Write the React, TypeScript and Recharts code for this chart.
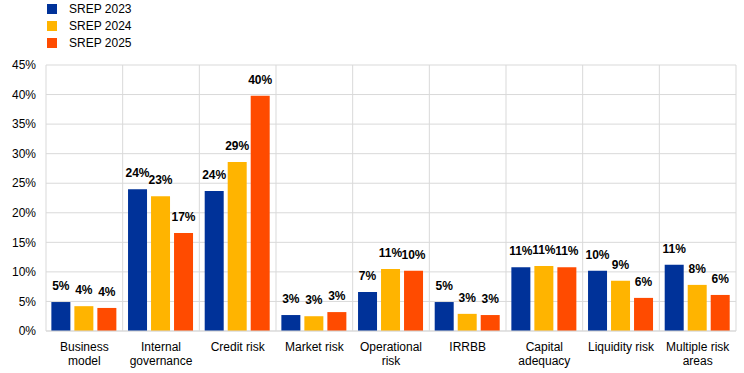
import { Bar, BarChart, CartesianGrid, LabelList, XAxis, YAxis } from "recharts";

const categoryLines = [
  ["Business", "model"],
  ["Internal", "governance"],
  ["Credit risk"],
  ["Market risk"],
  ["Operational", "risk"],
  ["IRRBB"],
  ["Capital", "adequacy"],
  ["Liquidity risk"],
  ["Multiple risk", "areas"],
];
const categories = categoryLines.map((l) => l.join(" "));

const srep2023 = [4.9, 24.0, 23.7, 2.7, 6.6, 4.9, 10.8, 10.2, 11.2];
const srep2024 = [4.2, 22.8, 28.6, 2.5, 10.5, 2.9, 11.0, 8.5, 7.8];
const srep2025 = [3.9, 16.6, 39.8, 3.2, 10.2, 2.7, 10.8, 5.6, 6.1];

const yTicks = [0, 5, 10, 15, 20, 25, 30, 35, 40, 45];

const series = [
  { key: "srep2023", name: "SREP 2023", color: "#003299" },
  { key: "srep2024", name: "SREP 2024", color: "#ffb400" },
  { key: "srep2025", name: "SREP 2025", color: "#ff4b00" },
];

const data = categories.map((name, i) => ({
  name,
  srep2023: srep2023[i],
  srep2024: srep2024[i],
  srep2025: srep2025[i],
}));

const FONT = "Arial, 'Liberation Sans', sans-serif";

function CategoryTick({ x, y, index }: { x?: number; y?: number; index?: number }) {
  const lines = categoryLines[index ?? 0] ?? [];
  return (
    <text x={x} y={y} textAnchor="middle" fontSize={12} fontFamily={FONT} fill="#000">
      {lines.map((line, i) => (
        <tspan key={i} x={x} dy={i === 0 ? 12 : 13.5}>
          {line}
        </tspan>
      ))}
    </text>
  );
}

export default function App() {
  return (
    <div style={{ position: "relative", width: 744, height: 373, fontFamily: FONT }}>
      <style>{"body{margin:0}"}</style>
      <div style={{ position: "absolute", left: 47, top: 0, zIndex: 1 }}>
        {series.map((s) => (
          <div key={s.key} style={{ display: "flex", alignItems: "center", height: 17 }}>
            <span style={{ width: 10, height: 10, background: s.color, display: "inline-block" }} />
            <span style={{ marginLeft: 12, fontSize: 12, color: "#000" }}>{s.name}</span>
          </div>
        ))}
      </div>
      <BarChart
        width={744}
        height={373}
        data={data}
        margin={{ top: 65, right: 8, left: 0, bottom: 0 }}
        barCategoryGap="7%"
        barGap={4}
      >
        <CartesianGrid
          stroke="#d9d9d9"
          verticalCoordinatesGenerator={({ offset }: any) =>
            Array.from({ length: categories.length + 1 }, (_, i) => offset.left + (i * offset.width) / categories.length)
          }
        />
        <XAxis
          dataKey="name"
          interval={0}
          tickLine={false}
          axisLine={{ stroke: "#d9d9d9" }}
          height={42}
          tick={<CategoryTick />}
        />
        <YAxis
          width={46}
          domain={[0, 45]}
          ticks={yTicks}
          tickLine={false}
          axisLine={false}
          tickMargin={4}
          tickFormatter={(v: number) => `${v}%`}
          tick={{ fontSize: 12, fill: "#000", fontFamily: FONT }}
        />
        {series.map((s) => (
          <Bar key={s.key} dataKey={s.key} name={s.name} fill={s.color} isAnimationActive={false}>
            <LabelList
              dataKey={s.key}
              position="top"
              offset={12}
              formatter={(v: number) => `${Math.round(v)}%`}
              style={{ fontSize: 12, fontWeight: "bold", fill: "#000", fontFamily: FONT }}
            />
          </Bar>
        ))}
      </BarChart>
    </div>
  );
}
